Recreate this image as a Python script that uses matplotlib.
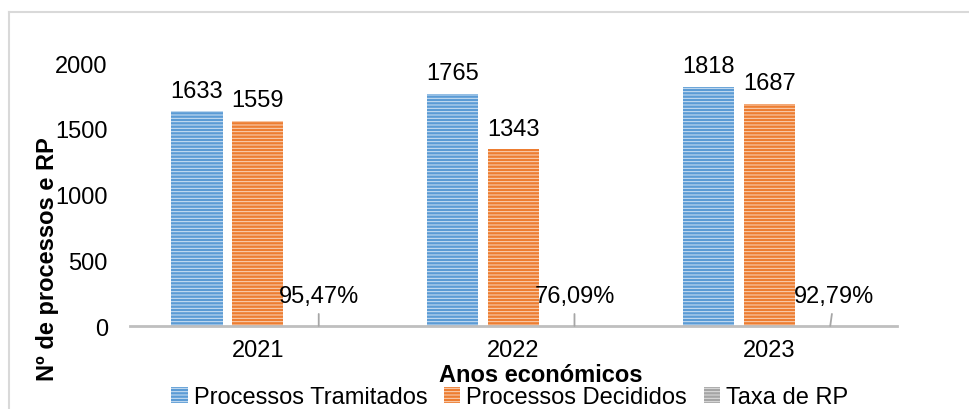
import numpy as np
import matplotlib.pyplot as plt
from matplotlib.lines import Line2D

plt.rcParams['font.family'] = ['Liberation Sans', 'DejaVu Sans']
plt.rcParams['hatch.linewidth'] = 0.7

anos = ['2021', '2022', '2023']
tramitados = [1633, 1765, 1818]
decididos = [1559, 1343, 1687]
taxa = [0.9547, 0.7609, 0.9279]
taxa_labels = ['95,47%', '76,09%', '92,79%']

fig = plt.figure(figsize=(9.7, 4.1), dpi=100)
ax = fig.add_axes([0.134, 0.2024, 0.791, 0.6415])

x = np.arange(len(anos))
w = 0.2
off = 0.238
fs = 17

ax.bar(x - off, tramitados, w, color='#5B9BD5', edgecolor='#D2E4F4',
       linewidth=0, hatch='-----', label='Processos Tramitados')
ax.bar(x, decididos, w, color='#ED7D31', edgecolor='#FAD6BE',
       linewidth=0, hatch='-----', label='Processos Decididos')
ax.bar(x + off, taxa, w, color='#A5A5A5', edgecolor='#E0E0E0',
       linewidth=0, hatch='-----', label='Taxa de RP')

for xi, v in zip(x - off, tramitados):
    ax.annotate(str(v), (xi, v), xytext=(0, 7), textcoords='offset points',
                ha='center', va='bottom', fontsize=fs, annotation_clip=False)
for xi, v in zip(x, decididos):
    ax.annotate(str(v), (xi, v), xytext=(0, 7), textcoords='offset points',
                ha='center', va='bottom', fontsize=fs, annotation_clip=False)

# rotulos da taxa com linha de chamada
desloc = [0, 0, 3]
for xi, v, lab, d in zip(x + off, taxa, taxa_labels, desloc):
    ax.annotate(lab, (xi, v), xytext=(d, 21.5), textcoords='offset points',
                ha='center', va='center', fontsize=fs,
                arrowprops=dict(arrowstyle='-', color='#A6A6A6', lw=1.3,
                                shrinkA=3, shrinkB=0))

ax.set_ylim(0, 2000)
ax.set_xlim(-0.5, 2.5)
ax.set_yticks([0, 500, 1000, 1500, 2000])
ax.set_xticks(x)
ax.set_xticklabels(anos)
ax.tick_params(axis='both', length=0, labelsize=fs, colors='black')
ax.tick_params(axis='x', pad=9)
ax.tick_params(axis='y', pad=16)

for s in ['top', 'right', 'left']:
    ax.spines[s].set_visible(False)
ax.spines['bottom'].set_color('#BFBFBF')
ax.spines['bottom'].set_linewidth(2)

ax.set_xlabel('Anos económicos', fontsize=17, fontweight='bold', va='center')
ax.xaxis.set_label_coords(0.535, -0.186)
ax.set_ylabel('Nº de processos e RP', fontsize=17, fontweight='bold', va='center')
ax.yaxis.set_label_coords(-0.108, 0.2586)

ax.legend(loc='center', bbox_to_anchor=(0.495, -0.27), ncol=3, frameon=False,
          fontsize=fs, handlelength=0.7, handleheight=0.7, handletextpad=0.25,
          columnspacing=0.7, borderaxespad=0, borderpad=0)

# moldura do grafico
fig.add_artist(Line2D([0.0093, 1.0], [0.968, 0.968], color='#D9D9D9', lw=1.5,
                      transform=fig.transFigure))
fig.add_artist(Line2D([0.0093, 0.0093], [0.0, 0.968], color='#D9D9D9', lw=1.5,
                      transform=fig.transFigure))

plt.savefig('out.png', dpi=100)
